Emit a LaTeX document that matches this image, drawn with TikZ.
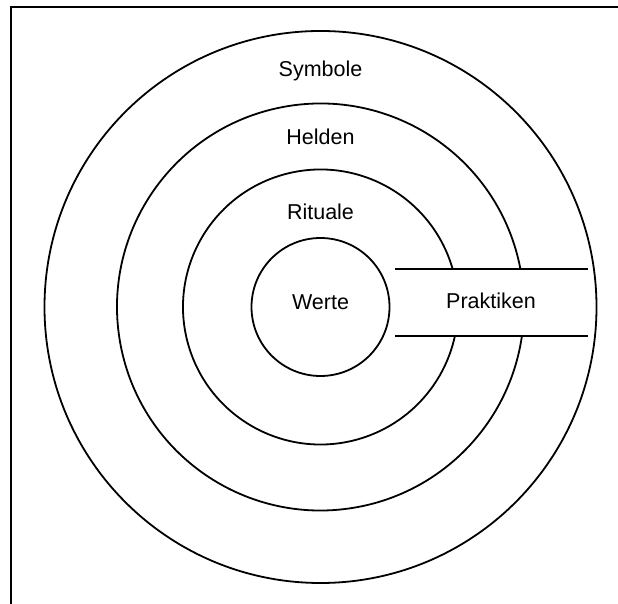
\documentclass[tikz,border=0pt]{standalone}
\usepackage{fontspec}
\setmainfont{Liberation Sans}
\usetikzlibrary{calc}

\begin{document}
\begin{tikzpicture}[
    x=1pt, y=1pt,
    font=\fontsize{21.5}{24}\selectfont,
    ring/.style  = {line width=1.8pt},
    frame/.style = {line width=2.4pt},
    lbl/.style   = {inner sep=0pt, anchor=base}
]
\useasboundingbox (0,0) rectangle (618,604);
\coordinate (c) at (320.5,297);

% frame (top and left only)
\draw[frame] (618,597) -- (11,597) -- (11,0);

% outer ring and core
\draw[ring] (c) circle[radius=276];
\draw[ring] (c) circle[radius=69];

% middle rings, open where the band passes
\foreach \r in {203.5,137.5}{
  \pgfmathsetmacro{\ta}{asin(38/\r)}
  \pgfmathsetmacro{\tb}{360-asin(29/\r)}
  \draw[ring] ($(c)+(\ta:\r)$) arc[start angle=\ta, end angle=\tb, radius=\r];
}

% band
\coordinate (bt1) at (395,335);
\coordinate (bt2) at (588,335);
\coordinate (bb1) at (395,268);
\coordinate (bb2) at (588,268);
\draw[ring] (bt1) -- (bt2);
\draw[ring] (bb1) -- (bb2);

% labels
\node[lbl] (sym) at (320.5,527) {Symbole};
\node[lbl] (hel) at (320.5,459) {Helden};
\node[lbl] (rit) at (320.5,384) {Rituale};
\node[lbl] (wer) at (320.5,294) {Werte};
\node[lbl] (pra) at (491,295) {Praktiken};

\end{tikzpicture}
\end{document}
